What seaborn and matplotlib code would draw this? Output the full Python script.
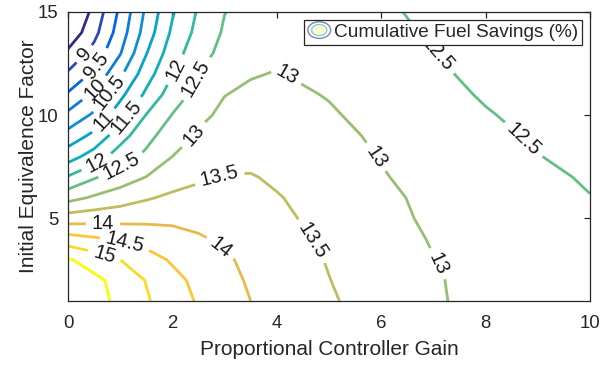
import numpy as np
import pandas as pd
import matplotlib
matplotlib.use("Agg")
import matplotlib.pyplot as plt
import seaborn as sns
from matplotlib.legend_handler import HandlerBase
from matplotlib.patches import Ellipse
from matplotlib.lines import Line2D

# Grid
gain = [0, 0.5, 1, 1.5, 2, 2.5, 3, 3.5, 4, 5, 6, 7, 8, 9, 10]
equiv_factor = [1, 2, 3, 4, 5, 6, 7, 8, 9, 10, 11, 12, 13, 14, 15]

# cumulative fuel savings (%), one row per equivalence factor (bottom to top)
savings = [
    [15.92, 15.70, 15.37, 15.05, 14.74, 14.45, 14.22, 14.00, 13.85, 13.55, 13.30, 13.05, 12.87, 12.75, 12.65],
    [15.80, 15.62, 15.33, 14.98, 14.65, 14.37, 14.13, 13.95, 13.80, 13.51, 13.24, 13.04, 12.86, 12.74, 12.64],
    [15.55, 15.27, 15.00, 14.71, 14.44, 14.25, 14.06, 13.90, 13.76, 13.47, 13.22, 13.01, 12.84, 12.72, 12.62],
    [14.72, 14.57, 14.44, 14.31, 14.18, 14.05, 13.93, 13.80, 13.66, 13.42, 13.18, 12.97, 12.82, 12.70, 12.60],
    [13.74, 13.80, 13.84, 13.88, 13.90, 13.87, 13.80, 13.72, 13.60, 13.35, 13.12, 12.93, 12.80, 12.68, 12.58],
    [12.83, 13.07, 13.26, 13.45, 13.60, 13.70, 13.72, 13.66, 13.53, 13.30, 13.09, 12.90, 12.76, 12.63, 12.51],
    [12.04, 12.45, 12.74, 13.01, 13.25, 13.41, 13.53, 13.53, 13.43, 13.22, 13.03, 12.85, 12.72, 12.58, 12.46],
    [11.28, 11.72, 12.25, 12.60, 13.00, 13.21, 13.32, 13.37, 13.34, 13.18, 12.98, 12.80, 12.66, 12.51, 12.40],
    [10.69, 11.13, 11.80, 12.35, 12.76, 13.06, 13.20, 13.26, 13.25, 13.10, 12.94, 12.77, 12.60, 12.45, 12.35],
    [10.12, 10.59, 11.29, 12.02, 12.52, 12.89, 13.10, 13.17, 13.17, 13.04, 12.88, 12.70, 12.53, 12.39, 12.28],
    [9.56, 10.10, 10.87, 11.60, 12.25, 12.67, 12.99, 13.08, 13.09, 12.98, 12.81, 12.63, 12.46, 12.33, 12.22],
    [9.07, 9.60, 10.40, 11.28, 11.98, 12.51, 12.73, 12.97, 13.02, 12.88, 12.72, 12.56, 12.41, 12.28, 12.18],
    [8.60, 9.18, 9.97, 10.98, 11.78, 12.30, 12.66, 12.85, 12.92, 12.84, 12.70, 12.51, 12.35, 12.24, 12.17],
    [8.12, 8.85, 9.74, 10.73, 11.59, 12.15, 12.56, 12.72, 12.80, 12.80, 12.65, 12.44, 12.30, 12.20, 12.13],
    [7.80, 8.66, 9.60, 10.60, 11.45, 12.06, 12.49, 12.64, 12.72, 12.74, 12.60, 12.36, 12.24, 12.16, 12.10],
]

levels = [8.5, 9, 9.5, 10, 10.5, 11, 11.5, 12, 12.5, 13, 13.5, 14, 14.5, 15, 15.5]

x_ticks = [0, 2, 4, 6, 8, 10]
y_ticks = [5, 10, 15]

# where the inline labels sit (close to the reference)
label_spots = [(0.36, 12.85), (0.59, 12.35), (0.56, 11.2), (0.8, 11.1), (0.7, 9.7),
               (1.13, 9.9), (0.57, 7.62), (2.06, 12.2), (1.03, 7.5), (2.44, 11.8),
               (2.38, 9.1), (4.2, 12.0), (5.88, 7.95), (7.07, 2.8), (2.91, 6.98),
               (4.7, 3.95), (0.67, 4.77), (2.91, 3.55), (1.09, 3.82), (0.71, 3.34),
               (7.0, 12.8), (8.72, 8.8)]

df = pd.DataFrame(savings, index=equiv_factor, columns=gain)

sns.set_theme(style="white")
plt.rcParams["font.family"] = ["Liberation Sans", "DejaVu Sans"]

# parula-like colormap
parula = sns.blend_palette([
    (0.2081, 0.1663, 0.5292), (0.2081, 0.2386, 0.6771), (0.1253, 0.3242, 0.8303),
    (0.0060, 0.4086, 0.8828), (0.0498, 0.4586, 0.8641), (0.0779, 0.5040, 0.8384),
    (0.0641, 0.5570, 0.8240), (0.0265, 0.6137, 0.8135), (0.0228, 0.6535, 0.7768),
    (0.0590, 0.6838, 0.7254), (0.1453, 0.7098, 0.6646), (0.2586, 0.7317, 0.5954),
    (0.3953, 0.7459, 0.5244), (0.5300, 0.7491, 0.4661), (0.6473, 0.7456, 0.4188),
    (0.7525, 0.7384, 0.3768), (0.8507, 0.7299, 0.3360), (0.9450, 0.7261, 0.2886),
    (0.9990, 0.7653, 0.2164), (0.9789, 0.8271, 0.1633), (0.9589, 0.8949, 0.1132),
    (0.9763, 0.9831, 0.0538)], n_colors=256, as_cmap=True)

fig = plt.figure(figsize=(6.11, 3.67), dpi=100)
ax = fig.add_axes([68 / 611, 1 - 301 / 367, 522 / 611, 289 / 367])

X, Y = np.meshgrid(df.columns.values.astype(float), df.index.values.astype(float))
cs = ax.contour(X, Y, df.values, levels=levels, cmap=parula, vmin=8.5, vmax=15.5,
                linewidths=2.0)
ax.clabel(cs, fmt="%g", fontsize=14.5, colors="k", inline=True, inline_spacing=6,
          manual=label_spots)

ax.set_xlim(0, 10)
ax.set_ylim(1, 15)
ax.set_xticks(x_ticks)
ax.set_yticks(y_ticks)

ax.set_xlabel("Proportional Controller Gain", fontsize=15, color=".15", labelpad=6)
ax.set_ylabel("Initial Equivalence Factor", fontsize=15, color=".15", labelpad=0)

for side in ["top", "right", "bottom", "left"]:
    ax.spines[side].set_visible(True)
    ax.spines[side].set_color(".15")
    ax.spines[side].set_linewidth(0.9)
ax.tick_params(axis="both", direction="in", length=4.5, width=0.9, colors=".15",
               labelsize=13.4, top=True, right=True)
ax.tick_params(axis="x", pad=10)
ax.tick_params(axis="y", pad=7)


# legend icon: concentric ellipses like the MATLAB contour legend
class ContourIcon(HandlerBase):
    def create_artists(self, legend, orig_handle, xdescent, ydescent, width, height,
                       fontsize, trans):
        cx = width / 2 - xdescent
        cy = height / 2 - ydescent
        out = []
        for scale, val in [(1.0, 0.0), (0.66, 0.45), (0.33, 1.0)]:
            e = Ellipse((cx, cy), width * scale, height * 1.25 * scale, fill=False,
                        edgecolor=parula(val), alpha=0.6, lw=1.0, transform=trans)
            out.append(e)
        return out


icon = Line2D([], [])
leg = ax.legend([icon], ["Cumulative Fuel Savings (%)"], loc="upper right",
                handler_map={icon: ContourIcon()}, fontsize=13.7, handlelength=1.2,
                handletextpad=0.2, borderpad=0.2, borderaxespad=0.4, fancybox=False,
                framealpha=1, edgecolor=".15")
leg.get_frame().set_linewidth(0.9)

fig.savefig("out.png", dpi=100)
